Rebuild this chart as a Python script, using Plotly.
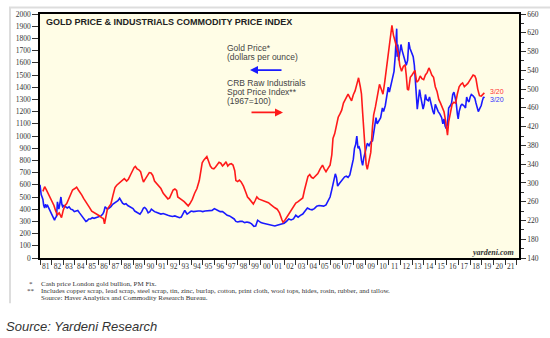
import plotly.graph_objects as go

# ---------------- data ----------------
gold_years = [1981.00, 1981.04, 1981.10, 1981.18, 1981.25, 1981.32, 1981.40, 1981.48, 1981.56, 1981.65,
              1981.75, 1981.85, 1981.95, 1982.05, 1982.15, 1982.25, 1982.33, 1982.42, 1982.50, 1982.56,
              1982.62, 1982.70, 1982.80, 1982.88, 1982.95, 1983.05, 1983.20, 1983.35, 1983.50, 1983.65,
              1983.80, 1983.95, 1984.10, 1984.25, 1984.40, 1984.55, 1984.70, 1984.85, 1984.95, 1985.05,
              1985.20, 1985.35, 1985.50, 1985.65, 1985.80, 1985.95, 1986.10, 1986.25, 1986.40, 1986.50,
              1986.60, 1986.70, 1986.80, 1986.95, 1987.10, 1987.25, 1987.40, 1987.55, 1987.70, 1987.85,
              1987.95, 1988.10, 1988.25, 1988.40, 1988.55, 1988.70, 1988.85, 1989.00, 1989.15, 1989.30,
              1989.45, 1989.60, 1989.75, 1989.90, 1990.00, 1990.15, 1990.30, 1990.45, 1990.58, 1990.70,
              1990.85, 1991.00, 1991.20, 1991.40, 1991.60, 1991.80, 1992.00, 1992.20, 1992.40, 1992.60,
              1992.80, 1993.00, 1993.15, 1993.30, 1993.45, 1993.55, 1993.65, 1993.80, 1994.00, 1994.20,
              1994.40, 1994.60, 1994.80, 1995.00, 1995.20, 1995.40, 1995.60, 1995.80, 1996.00, 1996.15,
              1996.30, 1996.50, 1996.70, 1996.90, 1997.10, 1997.30, 1997.50, 1997.70, 1997.85, 1998.00,
              1998.20, 1998.40, 1998.60, 1998.80, 1999.00, 1999.20, 1999.40, 1999.55, 1999.72, 1999.85,
              2000.00, 2000.20, 2000.40, 2000.60, 2000.80, 2001.00, 2001.20, 2001.40, 2001.60, 2001.80,
              2002.00, 2002.20, 2002.40, 2002.60, 2002.80, 2003.00, 2003.20, 2003.40, 2003.60, 2003.80,
              2004.00, 2004.20, 2004.40, 2004.60, 2004.80, 2005.00, 2005.20, 2005.40, 2005.60, 2005.80,
              2005.95, 2006.10, 2006.25, 2006.40, 2006.50, 2006.60, 2006.75, 2006.90, 2007.05, 2007.20,
              2007.35, 2007.50, 2007.65, 2007.80, 2007.95, 2008.05, 2008.15, 2008.25, 2008.35, 2008.45,
              2008.55, 2008.65, 2008.75, 2008.85, 2008.95, 2009.05, 2009.15, 2009.30, 2009.45, 2009.60,
              2009.75, 2009.90, 2010.00, 2010.15, 2010.30, 2010.45, 2010.55, 2010.70, 2010.85, 2010.95,
              2011.05, 2011.20, 2011.35, 2011.45, 2011.55, 2011.62, 2011.68, 2011.72, 2011.78, 2011.85,
              2011.95, 2012.05, 2012.15, 2012.30, 2012.40, 2012.50, 2012.62, 2012.72, 2012.82, 2012.95,
              2013.10, 2013.20, 2013.28, 2013.35, 2013.45, 2013.55, 2013.65, 2013.75, 2013.85, 2013.95,
              2014.05, 2014.15, 2014.25, 2014.40, 2014.50, 2014.60, 2014.70, 2014.80, 2014.90, 2015.00,
              2015.10, 2015.25, 2015.40, 2015.55, 2015.65, 2015.75, 2015.85, 2015.95, 2016.05, 2016.15,
              2016.30, 2016.40, 2016.50, 2016.60, 2016.70, 2016.80, 2016.90, 2016.97, 2017.05, 2017.20,
              2017.30, 2017.45, 2017.60, 2017.70, 2017.80, 2017.90, 2018.00, 2018.10, 2018.25, 2018.40,
              2018.50, 2018.60, 2018.70, 2018.80, 2018.95, 2019.05, 2019.15, 2019.22]
gold_price = [600, 540, 520, 500, 480, 430, 410, 440, 420, 430,
              400, 390, 370, 350, 330, 310, 330, 340, 460, 420,
              400, 440, 500, 440, 420, 430, 420, 410, 420, 400,
              395, 380, 385, 390, 370, 350, 340, 320, 300, 305,
              320, 320, 330, 325, 330, 335, 345, 345, 360, 380,
              420, 410, 400, 410, 420, 440, 450, 460, 470, 490,
              470, 450, 440, 445, 430, 420, 410, 405, 385, 375,
              370, 360, 380, 410, 415, 400, 370, 380, 400, 390,
              380, 375, 365, 360, 365, 355, 350, 345, 340, 345,
              340, 330, 335, 360, 390, 375, 360, 370, 385, 380,
              385, 385, 385, 380, 385, 388, 385, 390, 405, 395,
              390, 380, 380, 365, 350, 345, 330, 320, 300, 295,
              300, 300, 290, 295, 290, 280, 260, 262, 310, 300,
              290, 285, 280, 275, 270, 265, 262, 268, 272, 280,
              285, 300, 320, 312, 320, 350, 335, 350, 360, 385,
              410, 400, 395, 405, 425, 430, 428, 425, 435, 470,
              500, 560, 630, 690, 660, 590, 610, 630, 640, 665,
              670, 660, 680, 740, 810, 900, 930, 1000, 900, 910,
              880, 800, 760, 820, 860, 920, 940, 920, 950, 960,
              1050, 1150, 1100, 1120, 1150, 1230, 1200, 1250, 1370, 1400,
              1360, 1420, 1500, 1530, 1650, 1850, 1880, 1650, 1750, 1620,
              1680, 1750, 1700, 1650, 1600, 1580, 1620, 1770, 1720, 1680,
              1650, 1580, 1450, 1400, 1220, 1300, 1380, 1320, 1260, 1220,
              1260, 1340, 1300, 1290, 1320, 1290, 1240, 1200, 1180, 1260,
              1230, 1200, 1180, 1150, 1100, 1140, 1080, 1060, 1100, 1230,
              1250, 1270, 1340, 1360, 1320, 1270, 1180, 1140, 1200, 1250,
              1260, 1250, 1230, 1320, 1290, 1280, 1320, 1340, 1330, 1310,
              1270, 1220, 1200, 1220, 1250, 1290, 1320, 1310]

crb_years = [1981.25, 1981.40, 1981.55, 1981.75, 1981.90, 1982.05, 1982.20, 1982.35, 1982.50, 1982.65,
             1982.85, 1983.00, 1983.15, 1983.30, 1983.45, 1983.60, 1983.80, 1984.00, 1984.15, 1984.30,
             1984.45, 1984.60, 1984.75, 1984.90, 1985.10, 1985.25, 1985.45, 1985.65, 1985.90, 1986.10,
             1986.30, 1986.45, 1986.55, 1986.65, 1986.80, 1986.95, 1987.10, 1987.30, 1987.45, 1987.60,
             1987.75, 1987.90, 1988.10, 1988.25, 1988.45, 1988.60, 1988.80, 1988.95, 1989.10, 1989.20,
             1989.35, 1989.50, 1989.65, 1989.80, 1989.90, 1990.05, 1990.20, 1990.40, 1990.55, 1990.70,
             1990.85, 1991.00, 1991.20, 1991.40, 1991.60, 1991.80, 1992.00, 1992.15, 1992.30, 1992.45,
             1992.60, 1992.75, 1992.85, 1993.00, 1993.20, 1993.40, 1993.60, 1993.75, 1993.90, 1994.10,
             1994.30, 1994.50, 1994.70, 1994.85, 1994.95, 1995.10, 1995.25, 1995.35, 1995.50, 1995.65,
             1995.80, 1995.95, 1996.10, 1996.25, 1996.40, 1996.55, 1996.70, 1996.85, 1997.00, 1997.15,
             1997.30, 1997.45, 1997.60, 1997.75, 1997.85, 1998.00, 1998.15, 1998.30, 1998.50, 1998.70,
             1998.85, 1999.00, 1999.20, 1999.35, 1999.50, 1999.65, 1999.80, 2000.00, 2000.20, 2000.45,
             2000.65, 2000.85, 2001.00, 2001.20, 2001.40, 2001.60, 2001.80, 2001.90, 2002.05, 2002.20,
             2002.40, 2002.60, 2002.80, 2003.00, 2003.20, 2003.40, 2003.60, 2003.75, 2003.90, 2004.05,
             2004.20, 2004.35, 2004.50, 2004.70, 2004.90, 2005.10, 2005.30, 2005.45, 2005.60, 2005.80,
             2005.95, 2006.10, 2006.20, 2006.35, 2006.50, 2006.65, 2006.80, 2006.95, 2007.10, 2007.25,
             2007.40, 2007.50, 2007.65, 2007.80, 2007.95, 2008.10, 2008.25, 2008.40, 2008.55, 2008.65,
             2008.75, 2008.85, 2008.95, 2009.05, 2009.15, 2009.30, 2009.45, 2009.60, 2009.70, 2009.85,
             2009.95, 2010.10, 2010.20, 2010.35, 2010.50, 2010.65, 2010.80, 2010.95, 2011.10, 2011.20,
             2011.27, 2011.40, 2011.50, 2011.65, 2011.80, 2011.95, 2012.10, 2012.25, 2012.40, 2012.50,
             2012.60, 2012.70, 2012.85, 2013.00, 2013.15, 2013.25, 2013.40, 2013.55, 2013.70, 2013.85,
             2014.00, 2014.15, 2014.30, 2014.45, 2014.55, 2014.70, 2014.85, 2015.00, 2015.15, 2015.30,
             2015.45, 2015.60, 2015.75, 2015.90, 2016.00, 2016.05, 2016.15, 2016.30, 2016.45, 2016.60,
             2016.75, 2016.90, 2017.05, 2017.20, 2017.35, 2017.50, 2017.65, 2017.80, 2017.95, 2018.10,
             2018.25, 2018.40, 2018.50, 2018.65, 2018.80, 2018.95, 2019.10, 2019.22]
crb_index = [282, 292, 285, 275, 268, 260, 252, 240, 232, 236,
             226, 242, 252, 256, 265, 275, 285, 288, 291, 285,
             280, 274, 267, 262, 255, 248, 240, 237, 234, 230,
             226, 224, 213, 230, 245, 250, 255, 276, 290, 295,
             298, 300, 304, 309, 304, 308, 318, 326, 333, 335,
             330, 328, 324, 310, 302, 308, 314, 322, 321, 316,
             304, 300, 294, 288, 278, 273, 266, 268, 276, 285,
             287, 284, 270, 268, 264, 260, 255, 251, 256, 265,
             278, 288, 305, 325, 343, 349, 352, 356, 346, 336,
             331, 330, 334, 340, 344, 342, 336, 340, 345, 336,
             340, 341, 338, 326, 305, 303, 306, 302, 293, 280,
             270, 266, 258, 255, 262, 270, 266, 264, 262, 260,
             258, 254, 250, 247, 244, 236, 222, 216, 220, 226,
             236, 243, 250, 257, 260, 264, 268, 285, 303, 314,
             318, 312, 310, 316, 320, 330, 338, 330, 324, 332,
             338, 360, 395, 405, 420, 440, 447, 455, 470, 478,
             486, 489, 482, 475, 488, 496, 510, 524, 505, 490,
             450, 410, 377, 340, 329, 345, 365, 420, 445, 462,
             475, 500, 510, 500, 489, 515, 545, 575, 601, 625,
             636, 615, 605, 595, 578, 550, 538, 548, 552, 530,
             500, 498, 525, 530, 538, 540, 515, 518, 528, 522,
             520, 530, 535, 545, 540, 530, 525, 505, 495, 478,
             470, 462, 452, 430, 410, 402, 430, 452, 468, 472,
             470, 490, 505, 510, 513, 505, 508, 512, 518, 525,
             530, 528, 522, 500, 486, 485, 488, 492]

year_labels = ["81", "82", "83", "84", "85", "86", "87", "88", "89", "90",
               "91", "92", "93", "94", "95", "96", "97", "98", "99", "00",
               "01", "02", "03", "04", "05", "06", "07", "08", "09", "10",
               "11", "12", "13", "14", "15", "16", "17", "18", "19", "20", "21"]
first_year = 1981
left_ticks = list(range(0, 2001, 100))
right_ticks = list(range(140, 661, 40))

# ---------------- figure ----------------
W, H = 550, 338
L, R, T, B = 40, 31, 10, 80
PW, PH = W - L - R, H - T - B


def px(x):
    return (x - L) / PW


def py(y):
    return (H - B - y) / PH


fig = go.Figure()
fig.add_trace(go.Scatter(x=crb_years, y=crb_index, yaxis="y2", mode="lines",
                         line=dict(color="#ff1a1a", width=1.6), hoverinfo="skip"))
fig.add_trace(go.Scatter(x=gold_years, y=gold_price, yaxis="y", mode="lines",
                         line=dict(color="#1a1aff", width=1.6), hoverinfo="skip"))

tick_font = dict(family="Liberation Serif", size=7.5, color="#333333")
label_years = [first_year + i + 0.5 for i in range(len(year_labels))]
bound_years = [first_year + i for i in range(len(year_labels) + 1)]

fig.update_layout(
    width=W, height=H,
    margin=dict(l=L, r=R, t=T, b=B),
    paper_bgcolor="white",
    plot_bgcolor="#fffde6",
    showlegend=False,
    xaxis=dict(range=[first_year, 2022.2], tickmode="array", tickvals=label_years,
               ticktext=year_labels, ticks="", tickfont=tick_font,
               showline=True, linecolor="black", linewidth=1.5, mirror=True,
               showgrid=False, zeroline=False,
               minor=dict(tickmode="array", tickvals=bound_years, ticks="outside",
                          ticklen=5, tickcolor="#333333", showgrid=False)),
    yaxis=dict(range=[0, 2000], tickmode="array", tickvals=left_ticks,
               ticks="outside", ticklen=6, tickcolor="#333333", tickfont=tick_font,
               showline=True, linecolor="black", linewidth=1.5, mirror=True,
               showgrid=False, zeroline=False),
    yaxis2=dict(range=[140, 660], tickmode="array", tickvals=right_ticks,
                overlaying="y", side="right",
                ticks="outside", ticklen=5, tickcolor="#333333", tickfont=tick_font,
                showline=True, linecolor="black", linewidth=1.5,
                showgrid=False, zeroline=False,
                minor=dict(dtick=20, ticks="outside", ticklen=3, tickcolor="#333333",
                           showgrid=False)),
)

sans = "Liberation Sans"
serif = "Liberation Serif"
note_font = dict(family=serif, size=7, color="#333333")
ann = [
    dict(x=px(44), y=py(18), text="<b>GOLD PRICE & INDUSTRIALS COMMODITY PRICE INDEX</b>",
         font=dict(family=sans, size=9, color="#222222")),
    dict(x=px(225), y=py(45), text="Gold Price*", font=dict(family=sans, size=8.5, color="#444444")),
    dict(x=px(225), y=py(54), text="(dollars per ounce)", font=dict(family=sans, size=8.5, color="#444444")),
    dict(x=px(225), y=py(80), text="CRB Raw Industrials", font=dict(family=sans, size=8.5, color="#444444")),
    dict(x=px(225), y=py(89), text="Spot Price Index**", font=dict(family=sans, size=8.5, color="#444444")),
    dict(x=px(225), y=py(98), text="(1967=100)", font=dict(family=sans, size=8.5, color="#444444")),
    dict(x=px(488), y=py(88.5), text="3/20", font=dict(family=sans, size=7, color="#ff3333")),
    dict(x=px(488), y=py(96.5), text="3/20", font=dict(family=sans, size=7, color="#3333ff")),
    dict(x=px(516), y=py(252), text="<b><i>yardeni.com</i></b>", xanchor="right",
         font=dict(family=serif, size=8, color="#333333")),
    dict(x=px(31), y=py(284), text="*", xanchor="center", font=note_font),
    dict(x=px(39), y=py(284), text="Cash price London gold bullion, PM Fix.", font=note_font),
    dict(x=px(31), y=py(291.5), text="**", xanchor="center", font=note_font),
    dict(x=px(39), y=py(291.5), text="Includes copper scrap, lead scrap, steel scrap, tin, zinc, burlap, cotton, print cloth, wool tops, hides, rosin, rubber, and tallow.",
         font=note_font),
    dict(x=px(39), y=py(299), text="Source: Haver Analytics and Commodity Research Bureau.", font=note_font),
    dict(x=px(4), y=py(328), text="<i>Source: Yardeni Research</i>",
         font=dict(family=sans, size=13, color="#333333")),
]
for a in ann:
    base = dict(xref="paper", yref="paper", showarrow=False, xanchor="left", yanchor="middle")
    base.update(a)
    fig.add_annotation(**base)

# legend arrows
fig.add_annotation(xref="paper", yref="paper", x=px(250), y=py(67), ax=33, ay=0,
                   showarrow=True, arrowhead=2, arrowsize=1, arrowwidth=1.6,
                   arrowcolor="#1a1aff", text="")
fig.add_annotation(xref="paper", yref="paper", x=px(283), y=py(110), ax=-33, ay=0,
                   showarrow=True, arrowhead=2, arrowsize=1, arrowwidth=1.6,
                   arrowcolor="#ff1a1a", text="")

# faint frame of the original image
fig.add_shape(type="line", xref="paper", yref="paper", x0=px(9), x1=px(550), y0=py(3.5), y1=py(3.5),
              line=dict(color="#dddddd", width=2))
fig.add_shape(type="line", xref="paper", yref="paper", x0=px(10), x1=px(10), y0=py(3.5), y1=py(304),
              line=dict(color="#dddddd", width=2))

fig.write_html("out.html")
